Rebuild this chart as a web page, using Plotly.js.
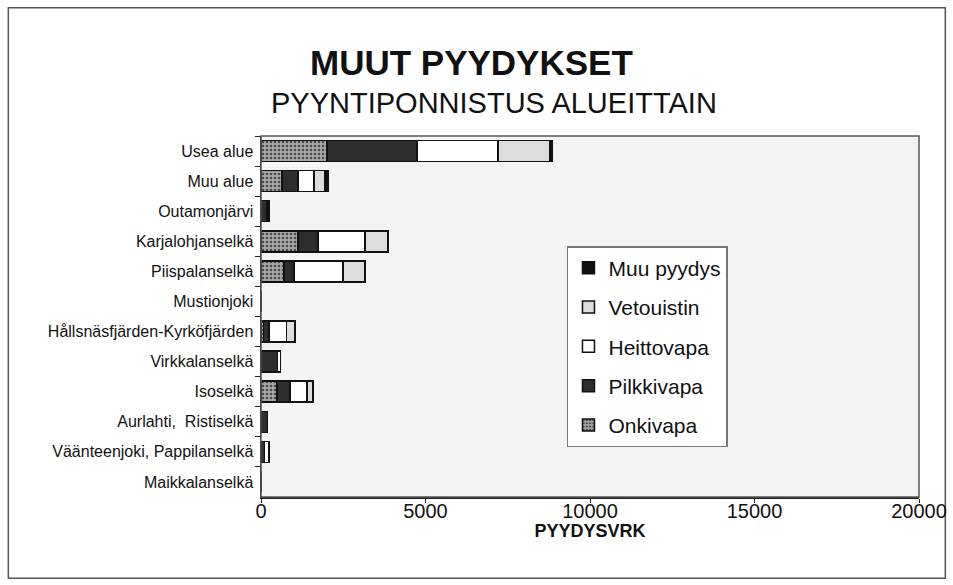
<!DOCTYPE html>
<html>
<head>
<meta charset="utf-8">
<script src="https://cdn.plot.ly/plotly-3.0.1.min.js"></script>
<style>html,body{margin:0;padding:0;background:#fff;}#chart{width:953px;height:585px;}</style>
</head>
<body>
<div id="chart"></div>
<script>
const categories = ["Usea alue","Muu alue","Outamonjärvi","Karjalohjanselkä","Piispalanselkä","Mustionjoki","Hållsnäsfjärden-Kyrköfjärden","Virkkalanselkä","Isoselkä","Aurlahti,  Ristiselkä","Väänteenjoki, Pappilanselkä","Maikkalanselkä"];
const onkivapa   = [2000, 640,   0, 1120, 700, 0,  80,   0, 480,   0,   0, 0];
const pilkkivapa = [2740, 480, 180,  610, 300, 0, 170, 500, 400, 200, 100, 0];
const heittovapa = [2460, 490,  60, 1430, 1490, 0, 530, 100, 520,  0, 150, 0];
const vetouistin = [1580, 330,   0,  700, 670, 0, 250,   0, 180,   0,   0, 0];
const muuPyydys  = [ 80,  100,   0,    0,   0, 0,   0,   0,   0,   0,   0, 0];
const seriesNames = ["Onkivapa","Pilkkivapa","Heittovapa","Vetouistin","Muu pyydys"];
const xTicks = [0, 5000, 10000, 15000, 20000];

const seriesValues = [onkivapa, pilkkivapa, heittovapa, vetouistin, muuPyydys];
const fills = ["#8e8e8e", "#2e2e2e", "#ffffff", "#dcdcdc", "#111111"];
const traces = seriesValues.map((vals, i) => {
  const marker = {color: fills[i], line: {color: "#111", width: 1.5}};
  if (i === 0) marker.pattern = {shape: ".", fgcolor: "#4a4a4a", bgcolor: "#a8a8a8", size: 4, solidity: 0.35};
  return {
    type: "bar", orientation: "h", name: seriesNames[i],
    y: categories, x: vals, marker: marker, legendgroup: "g" + i,
    legendrank: seriesValues.length - i,
    hoverinfo: "x+y"
  };
});

const FONT = "Liberation Sans, Arial, sans-serif";
const layout = {
  width: 953, height: 585,
  margin: {l: 261, r: 34, t: 136, b: 88},
  paper_bgcolor: "#ffffff",
  plot_bgcolor: "#f4f4f4",
  barmode: "stack",
  bargap: 0.3,
  font: {family: FONT, color: "#111"},
  xaxis: {
    range: [0, 20000], tickvals: xTicks, ticktext: xTicks.map(String),
    showgrid: false, zeroline: false,
    showline: true, linecolor: "#222", linewidth: 1.5, mirror: false,
    ticks: "outside", ticklen: 4, tickcolor: "#222",
    ticklabelstandoff: -9,
    tickfont: {size: 20, family: FONT},
    title: {text: "<b>PYYDYSVRK</b>", font: {size: 18}, standoff: 3}
  },
  yaxis: {
    type: "category", categoryorder: "array", categoryarray: categories,
    autorange: "reversed",
    showgrid: false, zeroline: false,
    showline: true, linecolor: "#222", linewidth: 1.5,
    ticks: "outside", ticklen: 5, tickcolor: "#222", tickson: "boundaries",
    tickfont: {size: 16, family: FONT},
    ticklabelstandoff: 3
  },
  legend: {
    x: 0.465, y: 0.695, xanchor: "left", yanchor: "top",
    bgcolor: "#ffffff", bordercolor: "#777", borderwidth: 1.5,
    traceorder: "grouped", tracegroupgap: 9,
    font: {size: 21, family: FONT},
    itemwidth: 30
  },
  showlegend: true,
  annotations: [
    {text: "<b>MUUT PYYDYKSET</b>", xref: "paper", yref: "paper", x: 0.32, y: 1.0, xanchor: "center", yanchor: "middle",
     yshift: 74, showarrow: false, font: {size: 35, family: FONT, color: "#111"}},
    {text: "PYYNTIPONNISTUS ALUEITTAIN", xref: "paper", yref: "paper", x: 0.354, y: 1.0, xanchor: "center", yanchor: "middle",
     yshift: 33, showarrow: false, font: {size: 29, family: FONT, color: "#111"}}
  ],
  shapes: [
    {type: "rect", xref: "paper", yref: "paper", x0: -0.384, x1: 1.04, y0: -0.225, y1: 1.355,
     line: {color: "#555", width: 1.5}, fillcolor: "rgba(0,0,0,0)", layer: "below"},
    {type: "rect", xref: "paper", yref: "paper", x0: 0, x1: 1, y0: 0, y1: 1,
     line: {color: "#555", width: 1.5}, fillcolor: "rgba(0,0,0,0)"}
  ]
};

Plotly.newPlot("chart", traces, layout, {displayModeBar: false, staticPlot: true});
</script>
</body>
</html>
